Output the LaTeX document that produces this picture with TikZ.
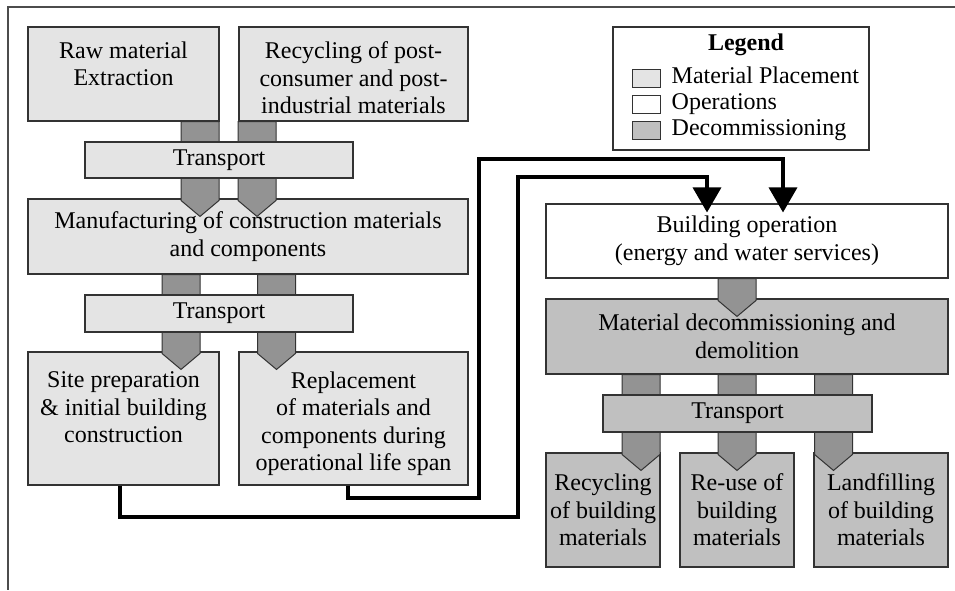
\documentclass[tikz,border=0pt]{standalone}
\usepackage{fontspec}
\setmainfont{Liberation Serif}
\usetikzlibrary{arrows.meta,calc}
\definecolor{matlight}{HTML}{E4E4E4}
\definecolor{decom}{HTML}{C0C0C0}
\definecolor{chevfill}{HTML}{939393}
\definecolor{edge}{HTML}{333333}
\tikzset{
  box/.style={draw=edge, line width=1.1pt, inner sep=2pt, align=center,
    font=\fontsize{24}{27.5}\selectfont, text=black},
  matbox/.style={box, fill=matlight},
  opbox/.style={box, fill=white},
  decbox/.style={box, fill=decom},
  lbl/.style={inner sep=0pt, align=center, font=\fontsize{24}{27.5}\selectfont},
  chevron/.style={draw=edge, line width=1pt, fill=chevfill},
  flow/.style={line width=3.4pt, draw=black, -{Triangle[width=28pt,length=25pt]}},
  frameline/.style={draw=black!70, line width=1.2pt},
  swatch/.style={draw=edge, line width=1pt, minimum width=28pt, minimum height=18pt, inner sep=0pt},
}
\newcommand{\chev}[3]{%
  \draw[chevron] let \p1=(#2.south), \p2=(#3.north) in
    ({#1pt-19pt},\y1) -- ({#1pt-19pt},\y2-2pt) -- (#1pt,\y2-18pt) --
    ({#1pt+19pt},\y2-2pt) -- ({#1pt+19pt},\y1) -- cycle;}
\begin{document}
\begin{tikzpicture}[x=1pt,y=-1pt]
\useasboundingbox (0,0) rectangle (955,590);
\fill[white] (0,0) rectangle (955,590);
% frame
\coordinate (fa) at (955,7);
\coordinate (fb) at (8,7);
\coordinate (fc) at (8,590);
\draw[frameline] (fa) -- (fb) -- (fc);

% main boxes, left column
\node[matbox, minimum width=191pt, minimum height=94pt] (raw) at (123.5,74) {};
\node[lbl, anchor=north] (rawt) at ([yshift=-15pt]raw.north) {Raw material\\Extraction};
\node[matbox, minimum width=229pt, minimum height=94pt] (rec) at (353.5,74) {};
\node[lbl, anchor=north] (rect) at ([yshift=-15pt]rec.north) {Recycling of post-\\consumer and post-\\industrial materials};
\node[matbox, minimum width=440pt, minimum height=75pt] (man) at (248,236.5) {Manufacturing of construction materials\\and components};
\node[matbox, minimum width=191pt, minimum height=133pt] (site) at (123.5,418.5) {};
\node[matbox, minimum width=229pt, minimum height=133pt] (repl) at (353.5,418.5) {};

% chevrons left
\chev{200}{raw}{man}
\chev{257}{rec}{man}
\chev{181}{man}{site}
\chev{276.5}{man}{repl}

\node[lbl, anchor=north] (sitet) at ([yshift=-20pt]site.north) {Site preparation\\\& initial building\\construction};
\node[lbl, anchor=north] (replt) at ([yshift=-20pt]repl.north) {Replacement\\of materials and\\components during\\operational life span};

\node[matbox, minimum width=268pt, minimum height=36pt] (tr1) at (219,160) {Transport};
\node[matbox, minimum width=268pt, minimum height=37pt] (tr2) at (219,313.5) {Transport};

% legend
\node[box, fill=white, minimum width=256pt, minimum height=123pt] (leg) at (741,88.5) {};
\node[lbl, font=\fontsize{24}{27.5}\selectfont\bfseries, anchor=base] (legt) at (746,50) {Legend};
\node[swatch, fill=matlight] (sw1) at (646,78) {};
\node[swatch, fill=white] (sw2) at (646,104) {};
\node[swatch, fill=decom] (sw3) at (646,130) {};
\node[lbl, anchor=base west] (lt1) at ([xshift=11pt,yshift=-5pt]sw1.east) {Material Placement};
\node[lbl, anchor=base west] (lt2) at ([xshift=11pt,yshift=-5pt]sw2.east) {Operations};
\node[lbl, anchor=base west] (lt3) at ([xshift=11pt,yshift=-5pt]sw3.east) {Decommissioning};

% right column
\node[opbox, minimum width=402pt, minimum height=74pt] (bop) at (747,241) {Building operation\\(energy and water services)};
\node[decbox, minimum width=402pt, minimum height=75pt] (dec) at (747,336.5) {Material decommissioning and\\demolition};
\node[decbox, minimum width=114pt, minimum height=114pt] (rcy) at (603,510) {Recycling\\of building\\materials};
\node[decbox, minimum width=114pt, minimum height=114pt] (reu) at (737,510) {Re-use of\\building\\materials};
\node[decbox, minimum width=134pt, minimum height=114pt] (lnd) at (881,510) {Landfilling\\of building\\materials};

\chev{737}{bop}{dec}
\chev{641}{dec}{rcy}
\chev{737}{dec}{reu}
\chev{833.5}{dec}{lnd}

\node[decbox, minimum width=269pt, minimum height=37pt] (tr3) at (737.5,413.5) {Transport};

% flow connectors
\coordinate (j1) at (518,517);
\coordinate (j2) at (707,177);
\coordinate (k1) at (479,498);
\coordinate (k2) at (783,159);
\draw[flow] ([xshift=-3.5pt]site.south) |- (j1) |- (j2) -- ([xshift=-40pt,yshift=-9pt]bop.north);
\draw[flow] ([xshift=-5.5pt]repl.south) |- (k1) |- (k2) -- ([xshift=36pt,yshift=-9pt]bop.north);
\end{tikzpicture}
\end{document}
